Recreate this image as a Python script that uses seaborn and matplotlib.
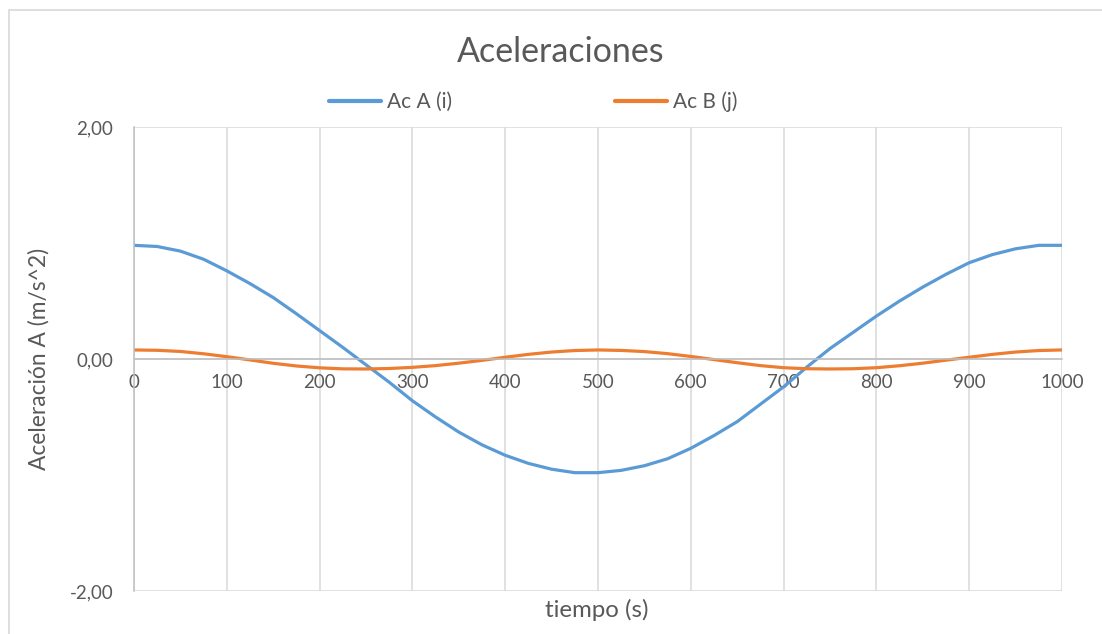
import seaborn as sns
import matplotlib.pyplot as plt
import pandas as pd
from matplotlib.patches import Rectangle

# tiempo (s)
tiempo = [0, 25, 50, 75, 100, 125, 150, 175, 200, 225, 250, 275, 300, 325, 350,
          375, 400, 425, 450, 475, 500, 525, 550, 575, 600, 625, 650, 675, 700,
          725, 750, 775, 800, 825, 850, 875, 900, 925, 950, 975, 1000]

# Ac A (i)
ac_a = [0.98, 0.97, 0.93, 0.86, 0.76, 0.65, 0.53, 0.39, 0.245, 0.10, -0.05,
        -0.20, -0.36, -0.50, -0.63, -0.74, -0.83, -0.90, -0.95, -0.98, -0.98,
        -0.96, -0.92, -0.86, -0.77, -0.66, -0.54, -0.39, -0.24, -0.07, 0.09,
        0.23, 0.37, 0.50, 0.62, 0.73, 0.83, 0.90, 0.95, 0.98, 0.98]

# Ac B (j)
ac_b = [0.078, 0.075, 0.065, 0.045, 0.020, -0.008, -0.037, -0.060, -0.076,
        -0.085, -0.086, -0.082, -0.072, -0.057, -0.036, -0.012, 0.015, 0.040,
        0.060, 0.073, 0.078, 0.074, 0.064, 0.046, 0.022, -0.005, -0.032, -0.057,
        -0.075, -0.084, -0.086, -0.084, -0.075, -0.058, -0.036, -0.010, 0.015,
        0.040, 0.060, 0.073, 0.078]

series_names = ["Ac A (i)", "Ac B (j)"]
colores = ["#5B9BD5", "#ED7D31"]

df = pd.concat([
    pd.DataFrame({"tiempo (s)": tiempo, "valor": ac_a, "serie": series_names[0]}),
    pd.DataFrame({"tiempo (s)": tiempo, "valor": ac_b, "serie": series_names[1]}),
])

sns.set_style("white")
plt.rcParams['font.family'] = ['Lato', 'DejaVu Sans']
gris = "#595959"

fig = plt.figure(figsize=(11.02, 6.34), dpi=100)
ax = fig.add_axes([134/1102, 1 - 591/634, 928/1102, 464/634])

sns.lineplot(data=df, x="tiempo (s)", y="valor", hue="serie",
             palette=dict(zip(series_names, colores)), linewidth=2.3, ax=ax)

ax.set_xlim(0, 1000)
ax.set_ylim(-2, 2)
ax.set_xticks(range(0, 1001, 100))
ax.set_yticks([-2, 0, 2])
ax.set_yticklabels(["-2,00", "0,00", "2,00"])

ax.grid(True, color="#D9D9D9", linewidth=1.1)
ax.set_axisbelow(True)

for s in ["top", "right"]:
    ax.spines[s].set_visible(False)
ax.spines["bottom"].set_position(("data", 0))
ax.spines["bottom"].set_color("#BFBFBF")
ax.spines["left"].set_color("#BFBFBF")
ax.spines["bottom"].set_linewidth(1.1)
ax.spines["left"].set_linewidth(1.1)

ax.tick_params(axis="both", length=0, labelsize=13.5, labelcolor=gris)
ax.tick_params(axis="y", pad=15)
ax.tick_params(axis="x", pad=11)

ax.set_xlabel("")
ax.set_ylabel("Aceleración A (m/s^2)", fontsize=16.4, color=gris)
ax.yaxis.set_label_coords(-0.103, 0.5)
ax.yaxis.label.set_va("center")

fig.text(597/1102, 1 - 610/634, "tiempo (s)", ha="center", va="center",
         fontsize=17.3, color=gris)
fig.text(561/1102, 1 - 52/634, "Aceleraciones", ha="center", va="center",
         fontsize=24.5, color=gris)

sns.move_legend(ax, "center", bbox_to_anchor=(533/1102, 1 - 102/634),
                bbox_transform=fig.transFigure, ncol=2, frameon=False,
                title=None, fontsize=15, handlelength=2.5,
                handletextpad=0.3, columnspacing=7.8)
for t in ax.get_legend().get_texts():
    t.set_color(gris)
for h in ax.get_legend().legend_handles:
    h.set_linewidth(3)

fig.patches.append(Rectangle((9/1102, -0.1), 1.2, 1 - 10/634 + 0.1,
                             transform=fig.transFigure, fill=False,
                             edgecolor="#D9D9D9", linewidth=1.2))

fig.savefig("out.png", dpi=100)
